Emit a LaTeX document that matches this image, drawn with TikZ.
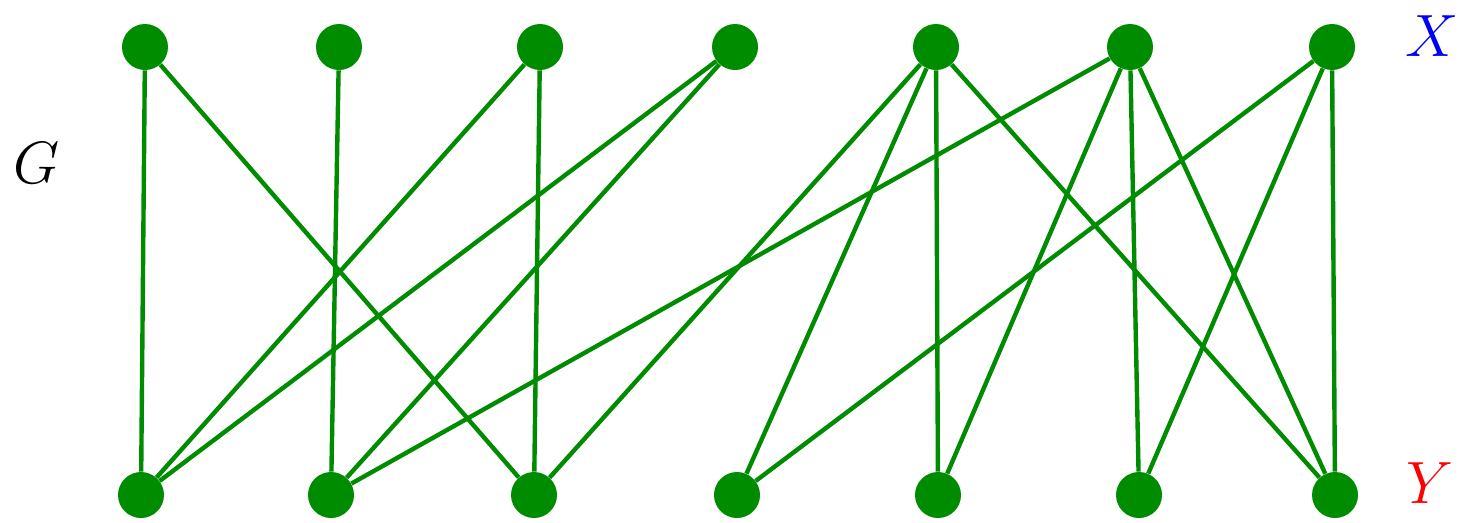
\RequirePackage{fix-cm}
\documentclass[tikz,border=0pt]{standalone}
\usepackage{tikz}

\definecolor{vgreen}{RGB}{0,140,0}

\begin{document}
\begin{tikzpicture}[x=0.02cm, y=-0.02cm,
    vertex/.style={circle, fill=vgreen, inner sep=0pt, minimum size=0.92cm},
    edge/.style={draw=vgreen, line width=2.5pt},
    lbl/.style={font=\fontsize{34}{40}\selectfont}]
    \useasboundingbox (0,0) rectangle (1473,522);
    % top part X
    \foreach \i/\x in {1/145, 2/339, 3/540, 4/735, 5/936, 6/1130, 7/1332}
        \node[vertex] (x\i) at (\x, 47) {};
    % bottom part Y
    \foreach \i/\x in {1/141, 2/331, 3/534, 4/737, 5/938, 6/1139, 7/1335}
        \node[vertex] (y\i) at (\x, 495) {};
    % edges
    \foreach \a/\b in {1/1, 1/3, 2/2, 3/1, 3/3, 4/1, 4/2, 5/3, 5/4, 5/5, 5/7,
                       6/2, 6/5, 6/6, 6/7, 7/4, 7/6, 7/7}
        \draw[edge] (x\a) -- (y\b);
    \node[lbl] (g) at (37, 163) {$G$};
    \node[lbl, text=blue] (xl) at (1432, 36) {$X$};
    \node[lbl, text=red] (yl) at (1430, 483) {$Y$};
\end{tikzpicture}
\end{document}
